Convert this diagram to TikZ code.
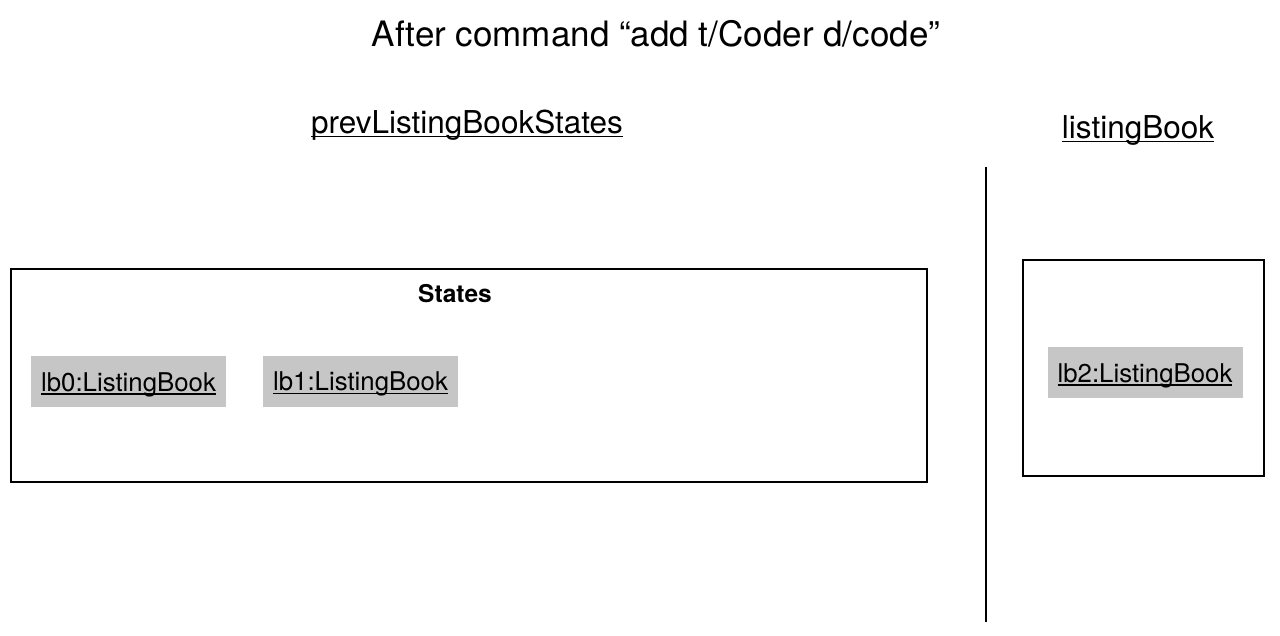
\documentclass[tikz,border=0pt]{standalone}
\usepackage{fontspec}
\setmainfont{TeX Gyre Heros}
\newcommand\myul[1]{\setbox0\hbox{#1}\rlap{\rule[-0.14em]{\wd0}{0.055em}}\box0}
\begin{document}
\begin{tikzpicture}[x=1pt,y=-1pt,
  frame/.style={draw=black,line width=2.2pt},
  obj/.style={fill=gray!45!white,minimum width=195pt,minimum height=51pt,inner sep=0pt,font=\fontsize{25.8}{30}\selectfont},
  head/.style={font=\fontsize{31.5}{36}\selectfont,inner sep=0pt,anchor=base}]
\useasboundingbox (0,0) rectangle (1280,635);
\node[head,font=\fontsize{35}{40}\selectfont] (title) at (656,46) {After command “add t/Coder d/code”};
\node[head] (prev) at (467,133) {\myul{prevListingBookStates}};
\node[head] (lbk) at (1138,138) {\myul{listingBook}};
\coordinate (vtop) at (986,167);
\coordinate (vbot) at (986,622);
\draw[line width=2.6pt] (vtop) -- (vbot);
\node[frame,minimum width=916pt,minimum height=213pt,inner sep=0pt] (states) at (469,375.5) {};
\node[font=\bfseries\fontsize{24.5}{28}\selectfont,inner sep=0pt,anchor=base] (statesl) at (455,302) {States};
\node[obj] (lb0) at (128.5,381.5) {\raisebox{-9.5pt}[0pt][0pt]{\myul{lb0:ListingBook}}};
\node[obj] (lb1) at (360.5,381) {\raisebox{-9.5pt}[0pt][0pt]{\myul{lb1:ListingBook}}};
\node[frame,minimum width=241pt,minimum height=216pt,inner sep=0pt] (cur) at (1143.5,368) {};
\node[obj] (lb2) at (1145,372.5) {\raisebox{-9.5pt}[0pt][0pt]{\myul{lb2:ListingBook}}};
\end{tikzpicture}
\end{document}
